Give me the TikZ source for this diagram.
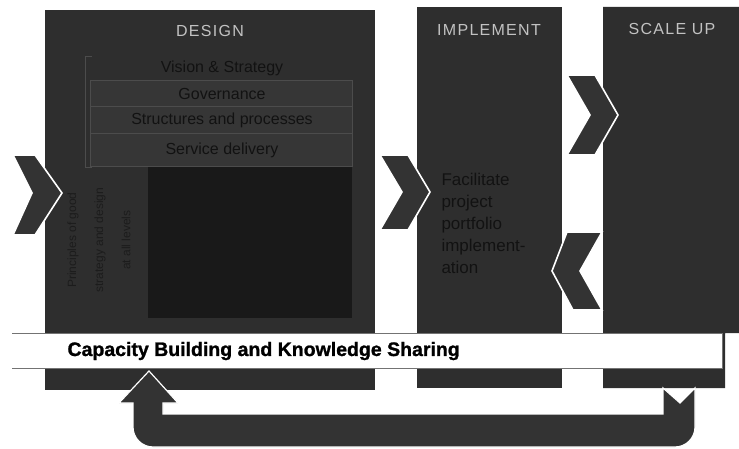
\documentclass[tikz,border=0pt]{standalone}
\usepackage{fontspec}
\setmainfont{Liberation Sans}
\usetikzlibrary{positioning}

\begin{document}
\begin{tikzpicture}[x=1pt,y=-1pt,
  phase/.style={fill=black!82,draw=none},
  chev/.style={fill=black!80,draw=white,line width=1.6pt,line join=miter},
  head/.style={text=black!24,font=\fontsize{16}{16}\selectfont\addfontfeature{LetterSpace=8}},
  dim/.style={text=black!93,font=\fontsize{16}{18}\selectfont},
  rowbox/.style={draw=black!70,fill=black!79,line width=0.8pt}]
  \useasboundingbox (0,0) rectangle (739,449);

  % three phases
  \fill[phase] (45,10) rectangle (375,390);        %design
  \fill[phase] (417,7) rectangle (562,388);        %implement
  \fill[phase] (603,7)--(739,7)--(739,333)--(725,333)--(725,388)--(603,388)--cycle; %scale up
  \node[head] (design) at (210,31) {DESIGN};
  \node[head] (implement) at (489,30) {IMPLEMENT};
  \node[head] (scaleup) at (672,29) {SCALE UP};

  % design: panel with rows
  \draw[black!70,line width=1pt] (92,57)--(85,57)--(85,168)--(92,168);
  \foreach \ya/\yb in {80/106,106/133,133/166}{
    \draw[rowbox] (90,\ya) rectangle (352,\yb);
  }
  \node[dim] (vision) at (222,68) {Vision \& Strategy};
  \node[dim] (gov) at (222,94) {Governance};
  \node[dim] (struct) at (222,120) {Structures and processes};
  \node[dim] (service) at (222,150) {Service delivery};

  % design: lower part
  \fill[black!90] (148,167) rectangle (352,318);
  \node[dim,rotate=90,text=black!89,font=\fontsize{12}{12}\selectfont] (col1) at (73,240) {Principles of good};
  \node[dim,rotate=90,text=black!89,font=\fontsize{12}{12}\selectfont] (col2) at (100,240) {strategy and design};
  \node[dim,rotate=90,text=black!89,font=\fontsize{12}{12}\selectfont] (col3) at (126,240) {at all levels};

  % implement text
  \node[dim,align=left,anchor=north west,font=\fontsize{17}{22}\selectfont] (facil) at (438,170)
    {Facilitate\\project\\portfolio\\implement-\\ation};

  % chevrons
  \draw[chev] (13,155)--(35,155)--(62,193)--(35,235)--(13,235)--(32,193)--cycle;
  \draw[chev] (380,155)--(408,155)--(430,192)--(408,230)--(380,230)--(402,192)--cycle;
  \draw[chev] (567,75)--(595,75)--(618,115)--(595,155)--(567,155)--(590,115)--cycle;
  \draw[chev] (567,232)--(602,232)--(580,271)--(602,310)--(573,310)--(552,271)--cycle;

  % band
  \fill[white] (12,333) rectangle (722,368);
  \draw[black!55,line width=0.8pt] (12,333)--(722,333)--(722,368)--(12,368);
  \node[anchor=west,font=\fontsize{19.5}{20}\selectfont\bfseries\addfontfeature{FakeBold=1.2}] (capacity) at (64,351)
    {Capacity Building and Knowledge Sharing};

  % feedback arrow
  \draw[fill=black!80,draw=white,line width=1.2pt]
    (663,388)--(680,403)--(695,388)[rounded corners=20]--(695,447)--(133,447)[sharp corners]
    --(133,403)--(119,403)--(149,371)--(178,403)--(163,403)--(163,414)--(663,414)--cycle;
\end{tikzpicture}
\end{document}
